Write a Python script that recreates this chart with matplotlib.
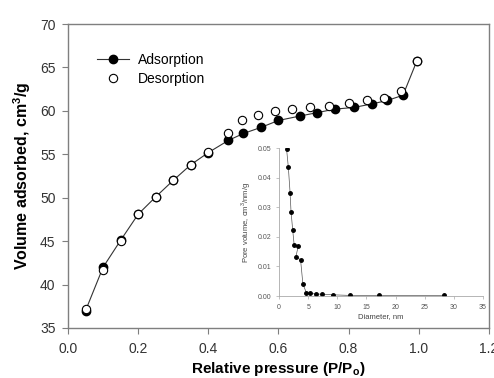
import numpy as np
import matplotlib
matplotlib.use('Agg')
import matplotlib.pyplot as plt

plt.rcParams['font.family'] = ['Liberation Sans', 'DejaVu Sans']
plt.rcParams['mathtext.fontset'] = 'custom'
plt.rcParams['mathtext.rm'] = 'Liberation Sans'
plt.rcParams['mathtext.bf'] = 'Liberation Sans:bold'

# isotherm, adsorption branch
ads_p = [0.05, 0.10, 0.15, 0.20, 0.25, 0.30, 0.35, 0.40, 0.457, 0.50, 0.55,
         0.60, 0.66, 0.71, 0.76, 0.815, 0.866, 0.91, 0.955, 0.995]
ads_v = [37.0, 42.0, 45.1, 48.1, 50.1, 52.0, 53.8, 55.2, 56.6, 57.4, 58.1,
         58.9, 59.4, 59.8, 60.2, 60.4, 60.8, 61.2, 61.8, 65.8]

# desorption branch
des_p = [0.995, 0.948, 0.90, 0.853, 0.80, 0.745, 0.69, 0.64, 0.59, 0.543,
         0.495, 0.457, 0.40, 0.35, 0.30, 0.25, 0.20, 0.15, 0.10, 0.05]
des_v = [65.8, 62.3, 61.5, 61.2, 60.9, 60.6, 60.4, 60.2, 60.0, 59.5,
         59.0, 57.4, 55.3, 53.8, 52.0, 50.1, 48.1, 45.0, 41.7, 37.2]

# pore size distribution (inset)
diam = [1.3, 1.6, 1.9, 2.06, 2.35, 2.6, 3.3, 2.9, 3.7, 4.1, 4.7, 5.3, 6.3,
        7.4, 9.3, 12.1, 17.2, 28.3]
pore_vol = [0.0496, 0.0435, 0.0349, 0.0285, 0.0223, 0.0172, 0.0169, 0.0133,
            0.0122, 0.0040, 0.0011, 0.0009, 0.0007, 0.0006, 0.0004, 0.0002,
            0.0002, 0.0002]

spine_col = '#7f7f7f'

fig = plt.figure(figsize=(4.94, 3.78), dpi=100)
ax = fig.add_axes([0.1377, 0.1323, 0.852, 0.804])

ax.plot(ads_p, ads_v, color='#333333', lw=0.8, marker='o', ms=6,
        mfc='black', mec='black', label='Adsorption', zorder=3)
ax.plot(des_p, des_v, ls='none', marker='o', ms=6, mfc='white',
        mec='black', mew=0.8, label='Desorption', zorder=4)

ax.set_xlim(0, 1.2)
ax.set_ylim(35, 70)
ax.set_xticks(np.arange(0, 1.21, 0.2))
ax.set_yticks(np.arange(35, 71, 5))
ax.set_xticklabels(['0.0', '0.2', '0.4', '0.6', '0.8', '1.0', '1.2'])
ax.tick_params(direction='out', length=4, width=0.8, colors=spine_col,
               labelcolor='#333333', labelsize=10, right=False, top=False)
ax.tick_params(axis='x', pad=6)
ax.tick_params(axis='y', pad=5)
for s in ax.spines.values():
    s.set_color(spine_col)
    s.set_linewidth(1.0)

ax.set_xlabel(r'Relative pressure (P/P$_\mathbf{o}$)', fontsize=11,
              fontweight='bold', labelpad=3)
ax.set_ylabel(r'Volume adsorbed, cm$^\mathbf{3}$/g', fontsize=11.5,
              fontweight='bold', labelpad=5)

ax.legend(loc='upper left', bbox_to_anchor=(0.04, 0.945), frameon=False,
          fontsize=10, handlelength=2.3, labelspacing=0.35,
          handletextpad=0.6)

# inset
ins = fig.add_axes([0.5648, 0.2169, 0.413, 0.3915])
ins.plot(diam, pore_vol, color='#555555', lw=0.5, marker='o', ms=2.5,
         mfc='black', mec='black')
ins.set_xlim(0, 35)
ins.set_ylim(0, 0.05)
ins.set_xticks(np.arange(0, 36, 5))
ins.set_yticks(np.arange(0, 0.051, 0.01))
ins.set_yticklabels(['0.00', '0.01', '0.02', '0.03', '0.04', '0.05'])
ins.patch.set_alpha(0)
ins.spines['top'].set_visible(False)
ins.spines['right'].set_visible(False)
for s in ['left', 'bottom']:
    ins.spines[s].set_color('#aaaaaa')
    ins.spines[s].set_linewidth(0.6)
ins.tick_params(length=2, width=0.5, colors='#aaaaaa', labelcolor='#555555',
                labelsize=5)
ins.set_xlabel('Diameter, nm', fontsize=5.5, color='#444444', labelpad=2)
ins.set_ylabel(r'Pore volume, cm$^3$/nm/g', fontsize=5.5, color='#444444',
               labelpad=3)

fig.savefig('out.png', dpi=100)
